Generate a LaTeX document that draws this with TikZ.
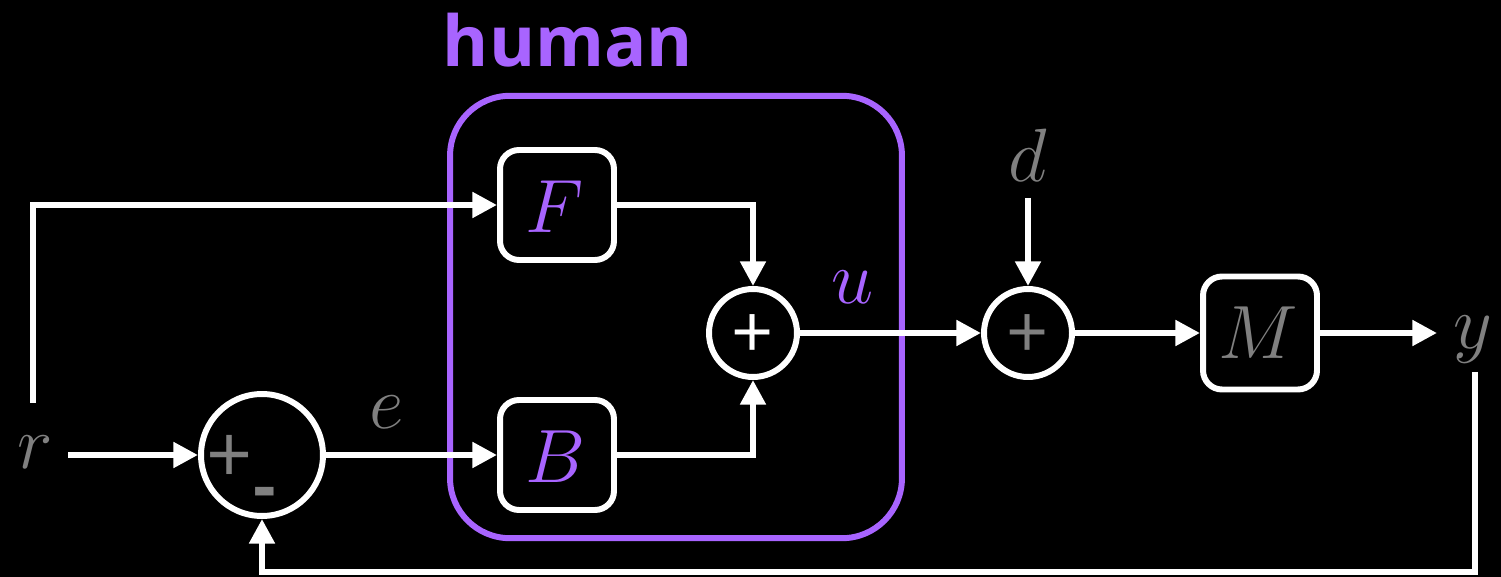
\documentclass[tikz,border=0pt]{standalone}
\usepackage{fix-cm}
\usepackage{fontspec}
\newfontfamily\humanfont{Open Sans}
\usetikzlibrary{arrows.meta}
\definecolor{hpurple}{RGB}{168,100,255}
\definecolor{sig}{RGB}{128,128,128}
\tikzset{
  wire/.style={draw=white, line width=3.4pt},
  arr/.style={wire, -{Triangle[length=14pt,width=14pt]}},
  block/.style={draw=white, line width=3.4pt, rounded corners=0.38cm, fill=black,
    minimum width=2.28cm, minimum height=2.2cm, inner sep=0pt},
  junction/.style={draw=white, line width=3.4pt, circle, fill=black, inner sep=0pt,
    minimum size=1.76cm},
  lbl/.style={text=sig, inner sep=0pt, font=\fontsize{43}{43}\selectfont},
  sign/.style={inner sep=0pt, font=\humanfont\fontsize{42}{42}\selectfont},
}
\begin{document}
\begin{tikzpicture}[x=0.02cm, y=-0.02cm]
  % canvas
  \fill[black] (0,0) rectangle (1501,577);
  \useasboundingbox (0,0) rectangle (1501,577);

  % human controller frame
  \node[draw=hpurple, line width=3.4pt, rounded corners=1.2cm, minimum width=9.04cm,
        minimum height=8.85cm, inner sep=0pt] (frame) at (676,317) {};
  \node[text=hpurple, inner sep=0pt, font=\humanfont\bfseries\fontsize{40}{40}\selectfont]
        (human) at (568,40) {human};

  % signals
  \node[lbl] (r) at (35,452) {$r$};
  \node[lbl] (e) at (387,412) {$e$};
  \node[lbl, text=hpurple] (u) at (853,287) {$u$};
  \node[lbl] (d) at (1028,155) {$d$};
  \node[lbl] (y) at (1473,340) {$y$};

  % blocks
  \node[block] (F) at (557,205) {};
  \node[lbl, text=hpurple] (Ft) at (555,207) {$F$};
  \node[block] (B) at (557,455) {};
  \node[lbl, text=hpurple] (Bt) at (555,457) {$B$};
  \node[block, minimum height=2.26cm] (M) at (1260,333) {};
  \node[lbl] (Mt) at (1258,333) {$M$};

  % summing junctions (signs placed by their baselines)
  \node[junction, minimum size=2.44cm] (s1) at (262,455) {};
  \node[sign, anchor=base, text=sig, font=\humanfont\fontsize{46}{46}\selectfont] (s1p) at (230,483) {\smash{+}};
  \node[sign, anchor=base, text=sig, font=\humanfont\bfseries\fontsize{40}{40}\selectfont] (s1m) at (265,510) {\smash{-}};
  \node[junction] (s2) at (753,333) {};
  \node[sign, text=white] (s2p) at (753,337) {+};
  \node[junction] (s3) at (1028,333) {};
  \node[sign, text=sig] (s3p) at (1028,337) {+};

  % connector end points
  \coordinate (rstart) at (68,455);
  \coordinate (rtap) at (33,403);
  \coordinate (dtop) at (1028,198);
  \coordinate (yarr) at (1437,333);
  \coordinate (ytap) at (1475,372);
  \coordinate (fb) at (1475,572);

  % connectors
  \draw[arr] (rstart) -- (s1.west);
  \draw[arr] (rtap) |- (F.west);
  \draw[arr] (s1.east) -- (B.west);
  \draw[arr] (F.east) -| (s2.north);
  \draw[arr] (B.east) -| (s2.south);
  \draw[arr] (s2.east) -- (s3.west);
  \draw[arr] (dtop) -- (s3.north);
  \draw[arr] (s3.east) -- (M.west);
  \draw[arr] (M.east) -- (yarr);
  \draw[arr] (ytap) -- (fb) -| (s1.south);
\end{tikzpicture}
\end{document}
